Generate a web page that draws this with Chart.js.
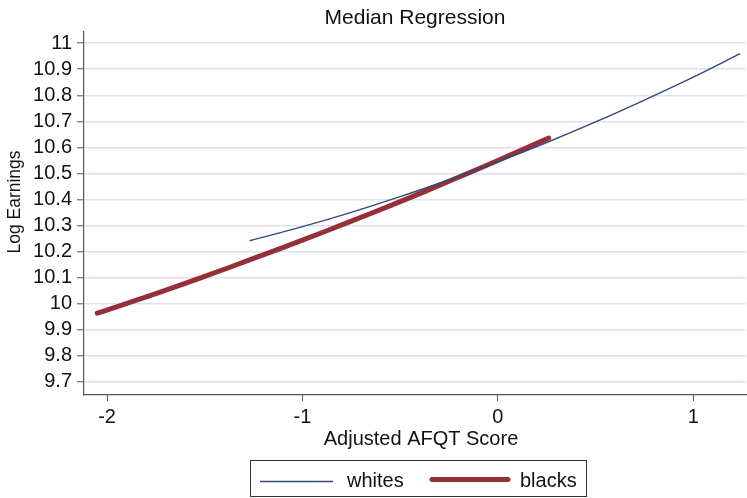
<!DOCTYPE html>
<html>
<head>
<meta charset="utf-8">
<script src="https://cdn.jsdelivr.net/npm/chart.js@4/dist/chart.umd.min.js"></script>
<style>
  html, body { margin: 0; padding: 0; background: #ffffff; }
  #wrap { width: 747px; height: 498px; }
</style>
</head>
<body>
<div id="wrap"><canvas id="c" width="747" height="498"></canvas></div>
<script>
// Fitted median-regression curves: log earnings against adjusted AFQT score
const whitesX = [-1.27, -1.0, -0.75, -0.5, -0.25, 0.0, 0.25, 0.5, 0.75, 1.0, 1.24];
const whitesY = [10.242, 10.296, 10.351, 10.411, 10.476, 10.545, 10.619, 10.698, 10.782, 10.870, 10.960];

const blacksX = [-2.05, -1.75, -1.5, -1.25, -1.0, -0.75, -0.5, -0.25, 0.0, 0.26];
const blacksY = [9.964, 10.039, 10.105, 10.174, 10.244, 10.317, 10.392, 10.470, 10.550, 10.636];

const xTicks = [-2, -1, 0, 1];
const yTicks = [9.7, 9.8, 9.9, 10, 10.1, 10.2, 10.3, 10.4, 10.5, 10.6, 10.7, 10.8, 10.9, 11];

const seriesNames = ['whites', 'blacks'];
const titleText = 'Median Regression';
const xTitle = 'Adjusted AFQT Score';
const yTitle = 'Log Earnings';

const FONT = '"Liberation Sans", Arial, Helvetica, sans-serif';
const BLUE = '#33497a';
const RED = '#952f38';
const AXIS = '#555555';
const GRID = '#dde1ef';

const toPoints = (xs, ys) => xs.map((x, i) => ({ x: x, y: ys[i] }));

// Titles and the boxed legend below the axis
const decorations = {
  id: 'decorations',
  afterDraw(chart) {
    const ctx = chart.ctx;
    const a = chart.chartArea;
    const cx = (a.left + a.right) / 2;
    ctx.save();
    ctx.fillStyle = '#111111';
    ctx.textBaseline = 'alphabetic';
    ctx.textAlign = 'center';

    ctx.font = '21px ' + FONT;
    ctx.fillText(titleText, cx, 24);

    ctx.font = '20px ' + FONT;
    ctx.fillText(xTitle, cx + 6, 445);

    ctx.save();
    ctx.translate(20, 202);
    ctx.rotate(-Math.PI / 2);
    ctx.font = '17.5px ' + FONT;
    ctx.fillText(yTitle, 0, 0);
    ctx.restore();

    // legend
    ctx.strokeStyle = '#333333';
    ctx.lineWidth = 1;
    ctx.strokeRect(250.5, 460.5, 336, 36);

    ctx.lineCap = 'butt';
    ctx.strokeStyle = BLUE;
    ctx.lineWidth = 1.4;
    ctx.beginPath();
    ctx.moveTo(260, 481.5);
    ctx.lineTo(333, 481.5);
    ctx.stroke();

    ctx.strokeStyle = RED;
    ctx.lineWidth = 5;
    ctx.lineCap = 'round';
    ctx.beginPath();
    ctx.moveTo(432, 479.5);
    ctx.lineTo(508, 479.5);
    ctx.stroke();

    ctx.textAlign = 'left';
    ctx.font = '20px ' + FONT;
    ctx.fillText(seriesNames[0], 347, 487);
    ctx.fillText(seriesNames[1], 520, 487);
    ctx.restore();
  }
};

new Chart(document.getElementById('c'), {
  type: 'line',
  data: {
    datasets: [
      {
        label: seriesNames[0],
        data: toPoints(whitesX, whitesY),
        borderColor: BLUE,
        borderWidth: 1.4,
        pointRadius: 0,
        tension: 0.4,
        fill: false
      },
      {
        label: seriesNames[1],
        data: toPoints(blacksX, blacksY),
        borderColor: RED,
        borderWidth: 5,
        borderCapStyle: 'round',
        pointRadius: 0,
        tension: 0.4,
        fill: false
      }
    ]
  },
  options: {
    responsive: false,
    animation: false,
    devicePixelRatio: 1,
    layout: { padding: { left: 0, top: 32, right: 1, bottom: 0 } },
    plugins: {
      legend: { display: false },
      title: { display: false },
      tooltip: { enabled: false }
    },
    scales: {
      x: {
        type: 'linear',
        position: 'bottom',
        min: -2.118,
        max: 1.27,
        afterBuildTicks: s => { s.ticks = xTicks.map(v => ({ value: v })); },
        afterFit: s => { s.height = 103; },
        border: { display: true, color: AXIS, width: 1.2 },
        grid: { drawOnChartArea: false, drawTicks: true, tickLength: 6, tickColor: AXIS, tickWidth: 1 },
        ticks: {
          autoSkip: false,
          maxRotation: 0,
          padding: 4,
          color: '#111111',
          font: { family: FONT, size: 20 },
          callback: v => String(v)
        }
      },
      y: {
        type: 'linear',
        position: 'left',
        min: 9.65,
        max: 11.043,
        afterBuildTicks: s => { s.ticks = yTicks.map(v => ({ value: v })); },
        afterFit: s => { s.width = 84; },
        border: { display: true, color: AXIS, width: 1.2 },
        grid: { color: GRID, lineWidth: 1.6, drawTicks: true, tickLength: 7, tickColor: AXIS, tickWidth: 1 },
        ticks: {
          autoSkip: false,
          padding: 5,
          color: '#111111',
          font: { family: FONT, size: 20 },
          callback: v => String(Math.round(v * 10) / 10)
        }
      }
    }
  },
  plugins: [decorations]
});
</script>
</body>
</html>
